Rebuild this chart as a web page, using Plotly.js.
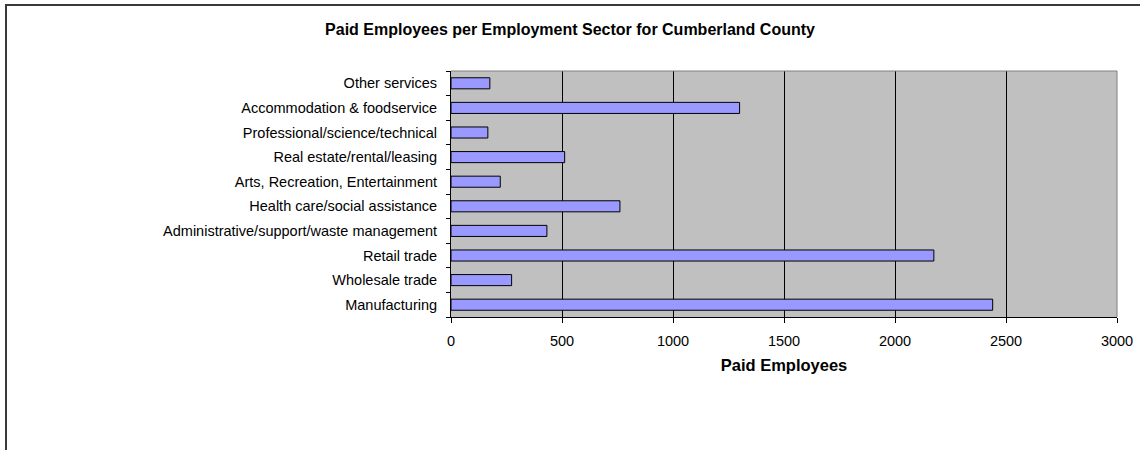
<!DOCTYPE html>
<html>
<head>
<meta charset="utf-8">
<script src="https://cdn.plot.ly/plotly-3.0.1.min.js"></script>
<style>
  html, body { margin: 0; padding: 0; background: #fff; overflow: hidden; }
  #chart { width: 1140px; height: 450px; position: absolute; left: 0; top: 0; }
  #frame { position: absolute; left: 5px; top: 4px; width: 1200px; height: 500px;
           border-left: 2px solid #3a3a3a; border-top: 2px solid #3a3a3a; pointer-events: none; }
</style>
</head>
<body>
<div id="chart"></div>
<div id="frame"></div>
<script>
const sectors = [
  "Manufacturing",
  "Wholesale trade",
  "Retail trade",
  "Administrative/support/waste management",
  "Health care/social assistance",
  "Arts, Recreation, Entertainment",
  "Real estate/rental/leasing",
  "Professional/science/technical",
  "Accommodation & foodservice",
  "Other services"
];
const paidEmployees = [2440, 273, 2175, 432, 761, 222, 512, 166, 1300, 175];
const xTicks = [0, 500, 1000, 1500, 2000, 2500, 3000];

const font = "Liberation Sans, Arial, sans-serif";

const data = [{
  type: "bar",
  orientation: "h",
  y: sectors,
  x: paidEmployees,
  marker: { color: "#9999FF", line: { color: "#000000", width: 1 } },
  hoverinfo: "x+y"
}];

const layout = {
  width: 1140,
  height: 450,
  margin: { l: 451, r: 23, t: 71, b: 133 },
  paper_bgcolor: "rgba(0,0,0,0)",
  plot_bgcolor: "#C0C0C0",
  bargap: 0.55,
  showlegend: false,
  font: { family: font, size: 14.5, color: "#000" },
  title: {
    text: "<b>Paid Employees per Employment Sector for Cumberland County</b>",
    font: { family: font, size: 16, color: "#000" },
    x: 0.5, xref: "container", xanchor: "center",
    y: 1 - 29 / 450, yref: "container", yanchor: "middle"
  },
  xaxis: {
    range: [0, 3000],
    tickvals: xTicks,
    ticktext: xTicks.map(String),
    showgrid: true,
    gridcolor: "#000000",
    gridwidth: 1,
    zeroline: false,
    showline: true,
    linecolor: "#000000",
    linewidth: 1,
    ticks: "outside",
    ticklen: 5,
    tickcolor: "#000000",
    ticklabelstandoff: 6,
    tickfont: { family: font, size: 14.5, color: "#000" },
    title: { text: "<b>Paid Employees</b>", font: { family: font, size: 16.5, color: "#000" }, standoff: 11 },
    fixedrange: true
  },
  yaxis: {
    type: "category",
    showgrid: false,
    zeroline: false,
    showline: true,
    linecolor: "#000000",
    linewidth: 1,
    ticks: "outside",
    tickson: "boundaries",
    ticklen: 4,
    tickcolor: "#000000",
    ticklabelstandoff: 10,
    tickfont: { family: font, size: 14.5, color: "#000" },
    fixedrange: true
  },
  shapes: [
    { type: "line", xref: "paper", yref: "paper", x0: 0, x1: 1, y0: 1, y1: 1, line: { color: "#808080", width: 1 } },
    { type: "line", xref: "paper", yref: "paper", x0: 1, x1: 1, y0: 0, y1: 1, line: { color: "#808080", width: 1 } }
  ]
};

Plotly.newPlot("chart", data, layout, { displayModeBar: false });
</script>
</body>
</html>
